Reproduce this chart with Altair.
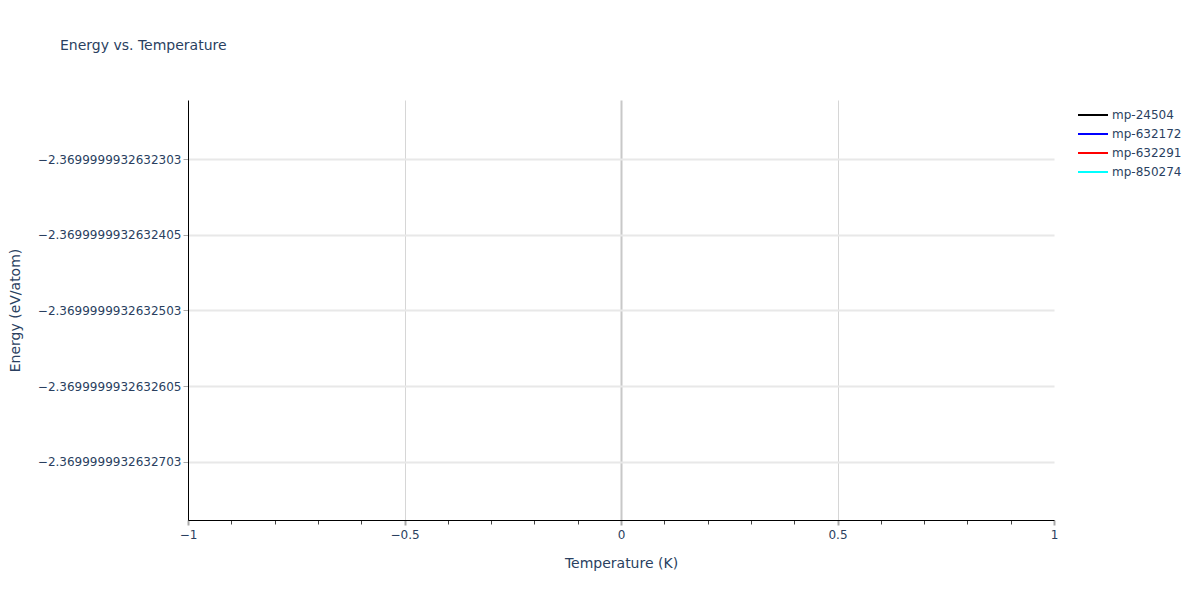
import altair as alt
import pandas as pd

# ---- data ----
series_names = ["mp-24504", "mp-632172", "mp-632291", "mp-850274"]
series_colors = ["#000000", "#0000ff", "#ff0000", "#00ffff"]
temperatures = [0.0, 0.0, 0.0, 0.0]          # K, one point per series
energies = [-2.36999999326325, -2.36999999326325, -2.36999999326325, -2.36999999326325]  # eV/atom

# y ticks (offset in units of 1e-14 eV from BASE) and their printed labels
BASE = -2.3699999932632
y_tick_offsets = [-3, -4, -5, -6, -7]
y_tick_labels = ["\u22122.3699999932632303", "\u22122.3699999932632405", "\u22122.3699999932632503",
                 "\u22122.3699999932632605", "\u22122.3699999932632703"]
y_domain = [-7.77, -2.22]

x_domain = [-1, 1]
x_tick_values = [round(-1 + 0.1 * i, 1) for i in range(21)]

rows = []
for name, t, e in zip(series_names, temperatures, energies):
    rows.append({"series": name, "temperature": t, "offset": (e - BASE) * 1e14})
df = pd.DataFrame(rows)

FONT = "DejaVu Sans"
TXT = "#2a3f5f"

label_map = "[" + ",".join("'" + s + "'" for s in y_tick_labels) + "]"
y_label_expr = label_map + "[round(-datum.value) - 3]"

major_test = "abs(datum.value * 2 - round(datum.value * 2)) < 1e-6"
inner_major = "(" + major_test + ") && abs(datum.value) < 0.99"

chart = alt.Chart(df).mark_line(strokeWidth=2).encode(
    x=alt.X("temperature:Q", title="Temperature (K)",
            scale=alt.Scale(domain=x_domain, nice=False, zero=False),
            axis=alt.Axis(
                values=x_tick_values,
                labelExpr=f"({major_test}) ? replace(format(datum.value, ''), '-', '\u2212') : ''",
                domainColor="#000000", domainWidth=1,
                grid=True,
                gridColor={"condition": {"test": "datum.value === 0", "value": "#c8c8c8"}, "value": "#d6d6d6"},
                gridWidth={"condition": {"test": "datum.value === 0", "value": 2}, "value": 1},
                gridOpacity={"condition": {"test": inner_major, "value": 1}, "value": 0},
                tickColor={"condition": {"test": major_test, "value": "#aaaaaa"}, "value": "#444444"},
                tickSize={"condition": {"test": major_test, "value": 5}, "value": 4},
                tickWidth={"condition": {"test": major_test, "value": 2}, "value": 1},
                labelFont=FONT, labelFontSize=12, labelColor=TXT, labelPadding=4,
                labelFlush=False, labelOverlap=False,
                titleFont=FONT, titleFontSize=14, titleColor=TXT, titleFontWeight="normal",
                titlePadding=16,
            )),
    y=alt.Y("offset:Q", title="Energy (eV/atom)",
            scale=alt.Scale(domain=y_domain, nice=False, zero=False),
            axis=alt.Axis(
                values=y_tick_offsets,
                labelExpr=y_label_expr,
                domainColor="#000000", domainWidth=1,
                grid=True, gridColor="#e8e8e8", gridWidth=2,
                tickColor="#aaaaaa", tickSize=5, tickWidth=1,
                labelFont=FONT, labelFontSize=12, labelColor=TXT, labelPadding=2,
                labelOverlap=False,
                titleFont=FONT, titleFontSize=14, titleColor=TXT, titleFontWeight="normal",
                titlePadding=15,
            )),
    color=alt.Color("series:N",
                    scale=alt.Scale(domain=series_names, range=series_colors),
                    legend=alt.Legend(
                        title=None, orient="none", legendX=889, legendY=7,
                        symbolType="stroke", symbolSize=900, symbolStrokeWidth=2,
                        labelFont=FONT, labelFontSize=12, labelColor=TXT,
                        labelOffset=3, rowPadding=3, clipHeight=16,
                    )),
    detail="series:N",
).properties(
    width=866, height=420,
    background="white",
    title=alt.TitleParams("Energy vs. Temperature", anchor="start", frame="group",
                          dx=-128, offset=46, dy=13, baseline="bottom",
                          font=FONT, fontSize=14, fontWeight="normal", color=TXT),
    autosize=alt.AutoSizeParams(type="none"),
    padding={"left": 180, "top": 92, "right": 138, "bottom": 72},
).configure_view(stroke=None)

chart.save("out.html", embed_options={"renderer": "svg", "actions": False})
